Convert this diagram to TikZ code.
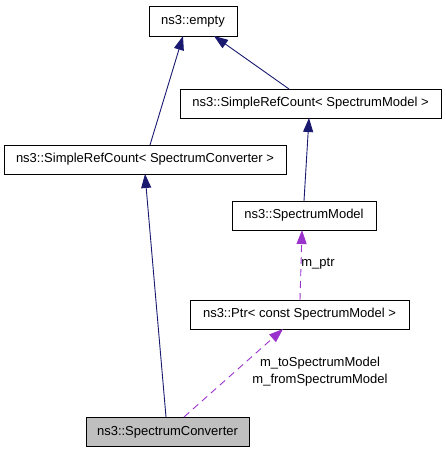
\documentclass[tikz,border=0pt]{standalone}
\usepackage{fontspec}
\setmainfont{Liberation Sans}
\usetikzlibrary{arrows.meta}
\definecolor{edgeblue}{HTML}{191970}
\definecolor{edgepurple}{HTML}{9A32CD}
\definecolor{grayfill}{HTML}{BFBFBF}
\begin{document}
\begin{tikzpicture}[x=1pt,y=-1pt,
  box/.style={draw=black,line width=0.9pt,fill=white,inner sep=0pt,font=\fontsize{13}{15}\selectfont},
  inh/.style={draw=edgeblue,line width=0.9pt,-{Triangle[length=14pt,width=10pt]}},
  use/.style={draw=edgepurple,line width=0.9pt,dash pattern=on 7pt off 5pt,-{Triangle[length=14pt,width=10pt]}},
  lbl/.style={font=\fontsize{13}{15}\selectfont,inner sep=0pt}]
\useasboundingbox (0,0) rectangle (445,453);
\node[box,minimum width=88pt,minimum height=30pt] (empty) at (193,21) {ns3::empty};
\node[box,minimum width=261pt,minimum height=29pt] (srcm) at (310.5,103.5) {ns3::SimpleRefCount< SpectrumModel >};
\node[box,minimum width=282pt,minimum height=29pt] (srcc) at (145,159.5) {ns3::SimpleRefCount< SpectrumConverter >};
\node[box,minimum width=144pt,minimum height=29pt] (sm) at (304,215.5) {ns3::SpectrumModel};
\node[box,minimum width=219pt,minimum height=29pt] (ptr) at (299.5,314.5) {ns3::Ptr< const SpectrumModel >};
\node[box,fill=grayfill,minimum width=163pt,minimum height=29pt] (sc) at (167.5,432) {ns3::SpectrumConverter};
\coordinate (srcc-t) at (150,145);
\coordinate (empty-b1) at (183,36);
\coordinate (srcm-t) at (289,89);
\coordinate (empty-b2) at (214,36);
\coordinate (sm-t) at (304,201);
\coordinate (srcm-b) at (309,118);
\coordinate (sc-t1) at (166,417);
\coordinate (srcc-b) at (145,174);
\coordinate (ptr-t) at (300,300);
\coordinate (sm-b) at (302,230);
\coordinate (sc-t2) at (184,417);
\coordinate (ptr-b) at (283,329);
\draw[inh] (srcc-t) -- (empty-b1);
\draw[inh] (srcm-t) -- (empty-b2);
\draw[inh] (sm-t) -- (srcm-b);
\draw[inh] (sc-t1) -- (srcc-b);
\draw[use] (ptr-t) -- (sm-b);
\draw[use] (sc-t2) -- (ptr-b);
\node[lbl] (l1) at (318,264) {m\_ptr};
\node[lbl] (l2) at (320,363) {m\_toSpectrumModel};
\node[lbl] (l3) at (320,380) {m\_fromSpectrumModel};
\end{tikzpicture}
\end{document}
